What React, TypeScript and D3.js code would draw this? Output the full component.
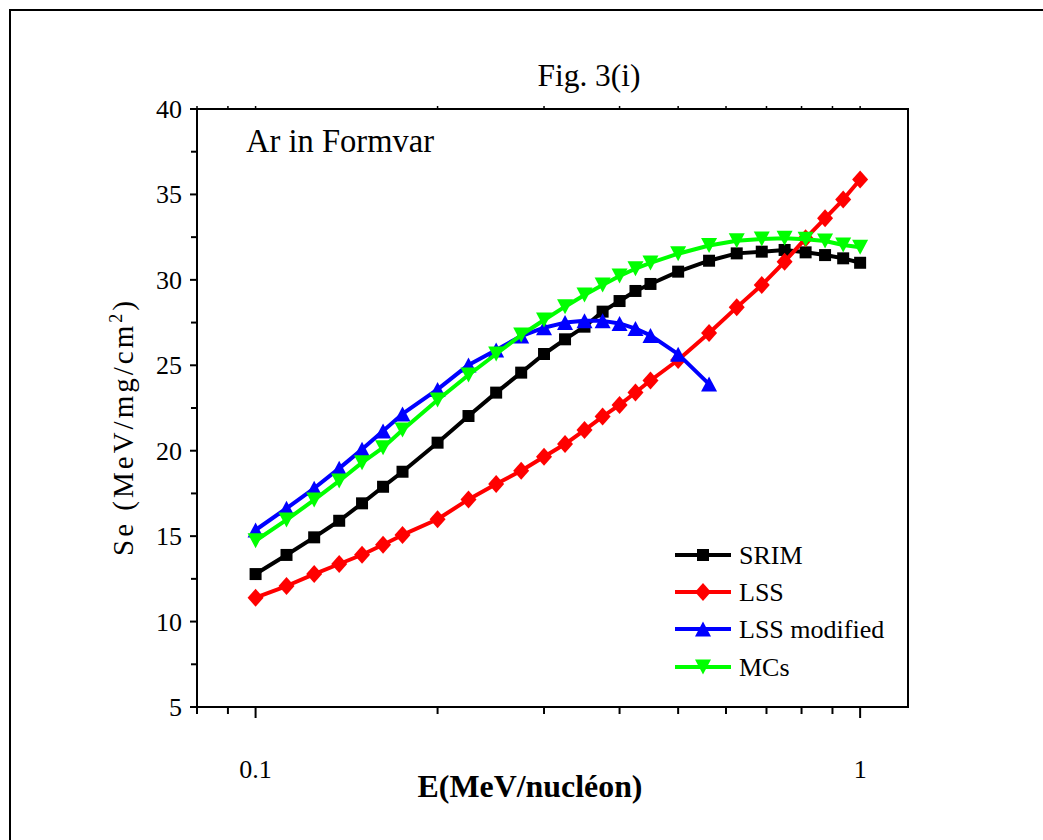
import React from "react";
import * as d3 from "d3";

const energies = [0.1, 0.1125, 0.125, 0.1375, 0.15, 0.1625, 0.175, 0.2, 0.225, 0.25, 0.275, 0.3, 0.325, 0.35, 0.375, 0.4, 0.425, 0.45, 0.5, 0.5625, 0.625, 0.6875, 0.75, 0.8125, 0.875, 0.9375, 1.0];
const srim = [12.78, 13.9, 14.93, 15.9, 16.92, 17.89, 18.77, 20.47, 22.03, 23.4, 24.57, 25.66, 26.52, 27.26, 28.14, 28.76, 29.35, 29.76, 30.48, 31.12, 31.55, 31.65, 31.75, 31.61, 31.45, 31.26, 31.0];
const lss = [11.4, 12.08, 12.78, 13.37, 13.91, 14.5, 15.07, 15.99, 17.15, 18.05, 18.83, 19.65, 20.39, 21.21, 22.0, 22.68, 23.41, 24.11, 25.31, 26.89, 28.39, 29.7, 31.06, 32.43, 33.6, 34.7, 35.87];
const lssModified = [15.36, 16.63, 17.8, 18.97, 20.08, 21.15, 22.15, 23.59, 25.02, 25.9, 26.71, 27.2, 27.5, 27.6, 27.6, 27.45, 27.15, 26.75, 25.65, 23.9];
const mcs = [14.73, 15.95, 17.12, 18.23, 19.3, 20.18, 21.21, 22.97, 24.43, 25.66, 26.77, 27.65, 28.43, 29.11, 29.7, 30.23, 30.65, 30.99, 31.53, 32.01, 32.29, 32.39, 32.43, 32.37, 32.27, 32.04, 31.91];

const seriesNames = ["SRIM", "LSS", "LSS modified", "MCs"];
const seriesColors = ["#000000", "#ff0000", "#0000ff", "#00ff00"];
const seriesMarkers = ["square", "diamond", "triangleUp", "triangleDown"];
const seriesValues = [srim, lss, lssModified, mcs];

const yTickValues = [5, 10, 15, 20, 25, 30, 35, 40];
const yMinorTicks = [7.5, 12.5, 17.5, 22.5, 27.5, 32.5, 37.5];
const xTickLabels = [0.1, 1];
const xMinorTicks = [0.08, 0.09, 0.2, 0.3, 0.4, 0.5, 0.6, 0.7, 0.8, 0.9];

function markerPath(type: string, cx: number, cy: number): string {
  const p = d3.path();
  if (type === "square") {
    const h = 6;
    p.rect(cx - h, cy - h, 2 * h, 2 * h);
  } else if (type === "diamond") {
    const w = 8, h = 9;
    p.moveTo(cx, cy - h); p.lineTo(cx + w, cy); p.lineTo(cx, cy + h); p.lineTo(cx - w, cy); p.closePath();
  } else if (type === "triangleUp") {
    const w = 8, h = 7.5;
    p.moveTo(cx, cy - h); p.lineTo(cx + w, cy + h); p.lineTo(cx - w, cy + h); p.closePath();
  } else {
    const w = 8, h = 7.5;
    p.moveTo(cx, cy + h); p.lineTo(cx + w, cy - h); p.lineTo(cx - w, cy - h); p.closePath();
  }
  return p.toString();
}

export default function App() {
  const left = 197, right = 908, top = 109, bottom = 707;
  const x = d3.scaleLog().domain([0.08, 1.2]).range([left, right]);
  const y = d3.scaleLinear().domain([5, 40]).range([bottom, top]);
  const line = d3.line<[number, number]>().x((d) => x(d[0])).y((d) => y(d[1]));
  const font = "'Liberation Serif', 'Times New Roman', serif";

  const legendY = [555, 592, 629, 667];

  return (
    <svg width={1043} height={840} style={{ position: "absolute", left: 0, top: 0, background: "#fff" }} fontFamily={font}>
      <rect x={0} y={0} width={1043} height={840} fill="#fff" />
      <rect x={10} y={10} width={1100} height={900} fill="none" stroke="#000" strokeWidth={2} />

      <text x={589} y={86} fontSize={31} textAnchor="middle" textLength={103} lengthAdjust="spacingAndGlyphs">Fig. 3(i)</text>

      <rect x={left} y={top} width={right - left} height={bottom - top} fill="none" stroke="#000" strokeWidth={2} />

      {yTickValues.map((v) => (
        <g key={"yt" + v}>
          <line x1={left - 7} x2={left} y1={y(v)} y2={y(v)} stroke="#000" strokeWidth={2} />
          <text x={182} y={y(v) + 9} fontSize={26} textAnchor="end">{v}</text>
        </g>
      ))}
      {yMinorTicks.map((v) => (
        <line key={"ym" + v} x1={left - 6} x2={left} y1={y(v)} y2={y(v)} stroke="#000" strokeWidth={2} />
      ))}

      {xTickLabels.map((v) => (
        <g key={"xt" + v}>
          <line x1={x(v)} x2={x(v)} y1={bottom} y2={bottom + 11} stroke="#000" strokeWidth={2} />
          <line x1={x(v)} x2={x(v)} y1={top} y2={top - 3} stroke="#000" strokeWidth={1.5} />
          <text x={x(v)} y={778} fontSize={26} textAnchor="middle">{v}</text>
        </g>
      ))}
      {xMinorTicks.map((v) => (
        <g key={"xm" + v}>
          <line x1={x(v)} x2={x(v)} y1={bottom} y2={bottom + 7} stroke="#000" strokeWidth={2} />
          <line x1={x(v)} x2={x(v)} y1={top} y2={top - 3} stroke="#000" strokeWidth={1.5} />
        </g>
      ))}

      <text x={340} y={152} fontSize={33} textAnchor="middle" textLength={188} lengthAdjust="spacingAndGlyphs">Ar in Formvar</text>

      <text transform="translate(133,427) rotate(-90)" fontSize={29} textAnchor="middle" letterSpacing={3}>
        Se  (MeV/mg/cm<tspan dy={-11} fontSize={18}>2</tspan><tspan dy={11}>)</tspan>
      </text>

      <text x={530} y={797} fontSize={31} fontWeight="bold" textAnchor="middle" textLength={225} lengthAdjust="spacingAndGlyphs">E(MeV/nucléon)</text>

      {seriesValues.map((vals, si) => {
        const pts: [number, number][] = vals.map((v, i) => [energies[i], v]);
        return (
          <g key={"s" + si}>
            <path d={line(pts) || ""} fill="none" stroke={seriesColors[si]} strokeWidth={4} strokeLinejoin="round" />
            {pts.map((d, i) => (
              <path key={i} d={markerPath(seriesMarkers[si], x(d[0]), y(d[1]))} fill={seriesColors[si]} />
            ))}
          </g>
        );
      })}

      {seriesNames.map((name, si) => (
        <g key={"lg" + si}>
          <line x1={675} x2={731} y1={legendY[si]} y2={legendY[si]} stroke={seriesColors[si]} strokeWidth={4} />
          <path d={markerPath(seriesMarkers[si], 703, legendY[si])} fill={seriesColors[si]} />
          <text x={739} y={legendY[si] + 9} fontSize={26}>{name}</text>
        </g>
      ))}
    </svg>
  );
}
